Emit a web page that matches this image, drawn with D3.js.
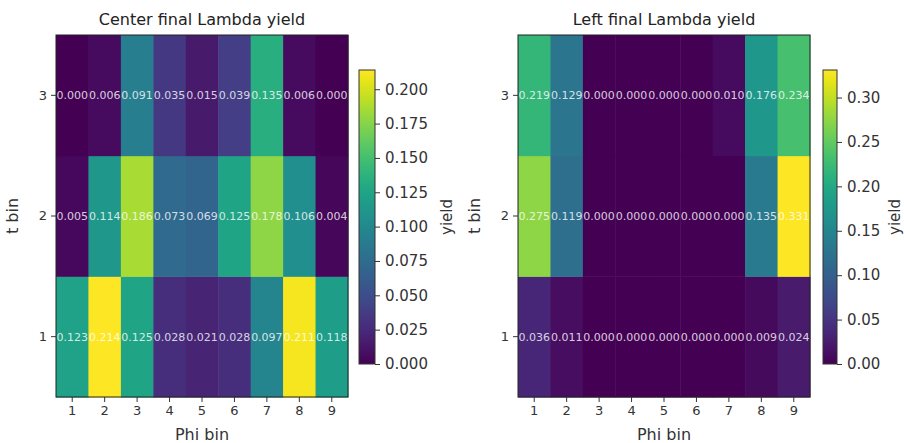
<!DOCTYPE html>
<html>
<head>
<meta charset="utf-8">
<script src="https://cdn.jsdelivr.net/npm/d3@7"></script>
<style>
  html, body { margin: 0; padding: 0; background: #fff; }
  svg { display: block; }
  text { font-family: "DejaVu Sans", sans-serif; }
</style>
</head>
<body>
<svg id="chart" width="904" height="443"></svg>
<script>
// Bin labels
const phiBins = [1, 2, 3, 4, 5, 6, 7, 8, 9];
const tBins = [1, 2, 3];

// Center yields, one row per t bin (t = 1, 2, 3), one value per phi bin
const centerT1 = [0.123, 0.214, 0.125, 0.028, 0.021, 0.028, 0.097, 0.211, 0.118];
const centerT2 = [0.005, 0.114, 0.186, 0.073, 0.069, 0.125, 0.178, 0.106, 0.004];
const centerT3 = [0.000, 0.006, 0.091, 0.035, 0.015, 0.039, 0.135, 0.006, 0.000];

// Left yields
const leftT1 = [0.036, 0.011, 0.000, 0.000, 0.000, 0.000, 0.000, 0.009, 0.024];
const leftT2 = [0.275, 0.119, 0.000, 0.000, 0.000, 0.000, 0.000, 0.135, 0.331];
const leftT3 = [0.219, 0.129, 0.000, 0.000, 0.000, 0.000, 0.010, 0.176, 0.234];

// Colorbar ticks
const centerTicks = [0.000, 0.025, 0.050, 0.075, 0.100, 0.125, 0.150, 0.175, 0.200];
const leftTicks = [0.00, 0.05, 0.10, 0.15, 0.20, 0.25, 0.30];

const svg = d3.select("#chart");
const TEXT = "#333";

function toCells(rows) {
  const cells = [];
  rows.forEach((row, i) => row.forEach((v, j) => cells.push({ t: tBins[i], phi: phiBins[j], v })));
  return cells;
}

function panel(opts) {
  const { x0, y0, w, h, rows, title, ticks, tickFmt, cbX, cbY, cbW, cbH, id, labelOffset } = opts;
  const cells = toCells(rows);
  const vmax = d3.max(cells, d => d.v);
  const color = d3.scaleSequential(d3.interpolateViridis).domain([0, vmax]);

  const x = d3.scaleBand().domain(phiBins).range([x0, x0 + w]);
  const y = d3.scaleBand().domain(tBins.slice().reverse()).range([y0, y0 + h]);

  const g = svg.append("g");

  g.selectAll("rect.cell").data(cells).join("rect")
    .attr("class", "cell")
    .attr("x", d => x(d.phi))
    .attr("y", d => y(d.t))
    .attr("width", x.bandwidth() + 0.5)
    .attr("height", y.bandwidth() + 0.5)
    .attr("fill", d => color(d.v));

  g.selectAll("text.val").data(cells).join("text")
    .attr("class", "val")
    .attr("x", d => x(d.phi) + x.bandwidth() / 2)
    .attr("y", d => y(d.t) + y.bandwidth() / 2)
    .attr("dy", "0.35em")
    .attr("text-anchor", "middle")
    .attr("font-size", 11)
    .attr("fill", "#fff")
    .attr("fill-opacity", 0.8)
    .text(d => d3.format(".3f")(d.v));

  g.append("rect")
    .attr("x", x0).attr("y", y0).attr("width", w).attr("height", h)
    .attr("fill", "none").attr("stroke", "#222").attr("stroke-width", 1);

  // axes
  const xAxis = d3.axisBottom(x).tickSizeOuter(0).tickSize(5).tickPadding(4);
  const gx = g.append("g").attr("transform", `translate(0,${y0 + h})`).call(xAxis);
  const yAxis = d3.axisLeft(y).tickSizeOuter(0).tickSize(5).tickPadding(4);
  const gy = g.append("g").attr("transform", `translate(${x0},0)`).call(yAxis);
  [gx, gy].forEach(a => {
    a.select(".domain").remove();
    a.selectAll("line").attr("stroke", TEXT);
    a.selectAll("text").attr("fill", TEXT).attr("font-size", 13).attr("font-family", "DejaVu Sans");
  });

  g.append("text")
    .attr("x", x0 + w / 2).attr("y", y0 - 10)
    .attr("text-anchor", "middle").attr("font-size", 16).attr("fill", "#222")
    .text(title);
  g.append("text")
    .attr("x", x0 + w / 2).attr("y", y0 + h + 43)
    .attr("text-anchor", "middle").attr("font-size", 16).attr("fill", TEXT)
    .text("Phi bin");
  g.append("text")
    .attr("transform", `translate(${x0 - 38},${y0 + h / 2}) rotate(-90)`)
    .attr("text-anchor", "middle").attr("font-size", 16).attr("fill", TEXT)
    .text("t bin");

  // colorbar
  const defs = svg.append("defs");
  const grad = defs.append("linearGradient").attr("id", id)
    .attr("x1", 0).attr("y1", 1).attr("x2", 0).attr("y2", 0);
  d3.range(0, 1.0001, 0.05).forEach(f => {
    grad.append("stop").attr("offset", f).attr("stop-color", color(f * vmax));
  });
  g.append("rect").attr("x", cbX).attr("y", cbY).attr("width", cbW).attr("height", cbH)
    .attr("fill", `url(#${id})`).attr("stroke", "#333").attr("stroke-width", 1);

  const cy = d3.scaleLinear().domain([0, vmax]).range([cbY + cbH, cbY]);
  const cAxis = d3.axisRight(cy).tickValues(ticks).tickFormat(tickFmt).tickSize(5).tickPadding(5);
  const gc = g.append("g").attr("transform", `translate(${cbX + cbW},0)`).call(cAxis);
  gc.select(".domain").remove();
  gc.selectAll("line").attr("stroke", TEXT);
  gc.selectAll("text").attr("fill", TEXT).attr("font-size", 15).attr("font-family", "DejaVu Sans");

  g.append("text")
    .attr("transform", `translate(${cbX + cbW + labelOffset},${cbY + cbH / 2}) rotate(-90)`)
    .attr("text-anchor", "middle").attr("font-size", 15).attr("fill", TEXT)
    .text("yield");
}

panel({
  id: "cbCenter", x0: 56, y0: 35, w: 292, h: 362,
  rows: [centerT1, centerT2, centerT3],
  title: "Center final Lambda yield",
  ticks: centerTicks, tickFmt: d3.format(".3f"),
  cbX: 359, cbY: 70, cbW: 16, cbH: 294, labelOffset: 77
});

panel({
  id: "cbLeft", x0: 518, y0: 35, w: 292, h: 362,
  rows: [leftT1, leftT2, leftT3],
  title: "Left final Lambda yield",
  ticks: leftTicks, tickFmt: d3.format(".2f"),
  cbX: 823, cbY: 70, cbW: 14, cbH: 294, labelOffset: 63
});
</script>
</body>
</html>
